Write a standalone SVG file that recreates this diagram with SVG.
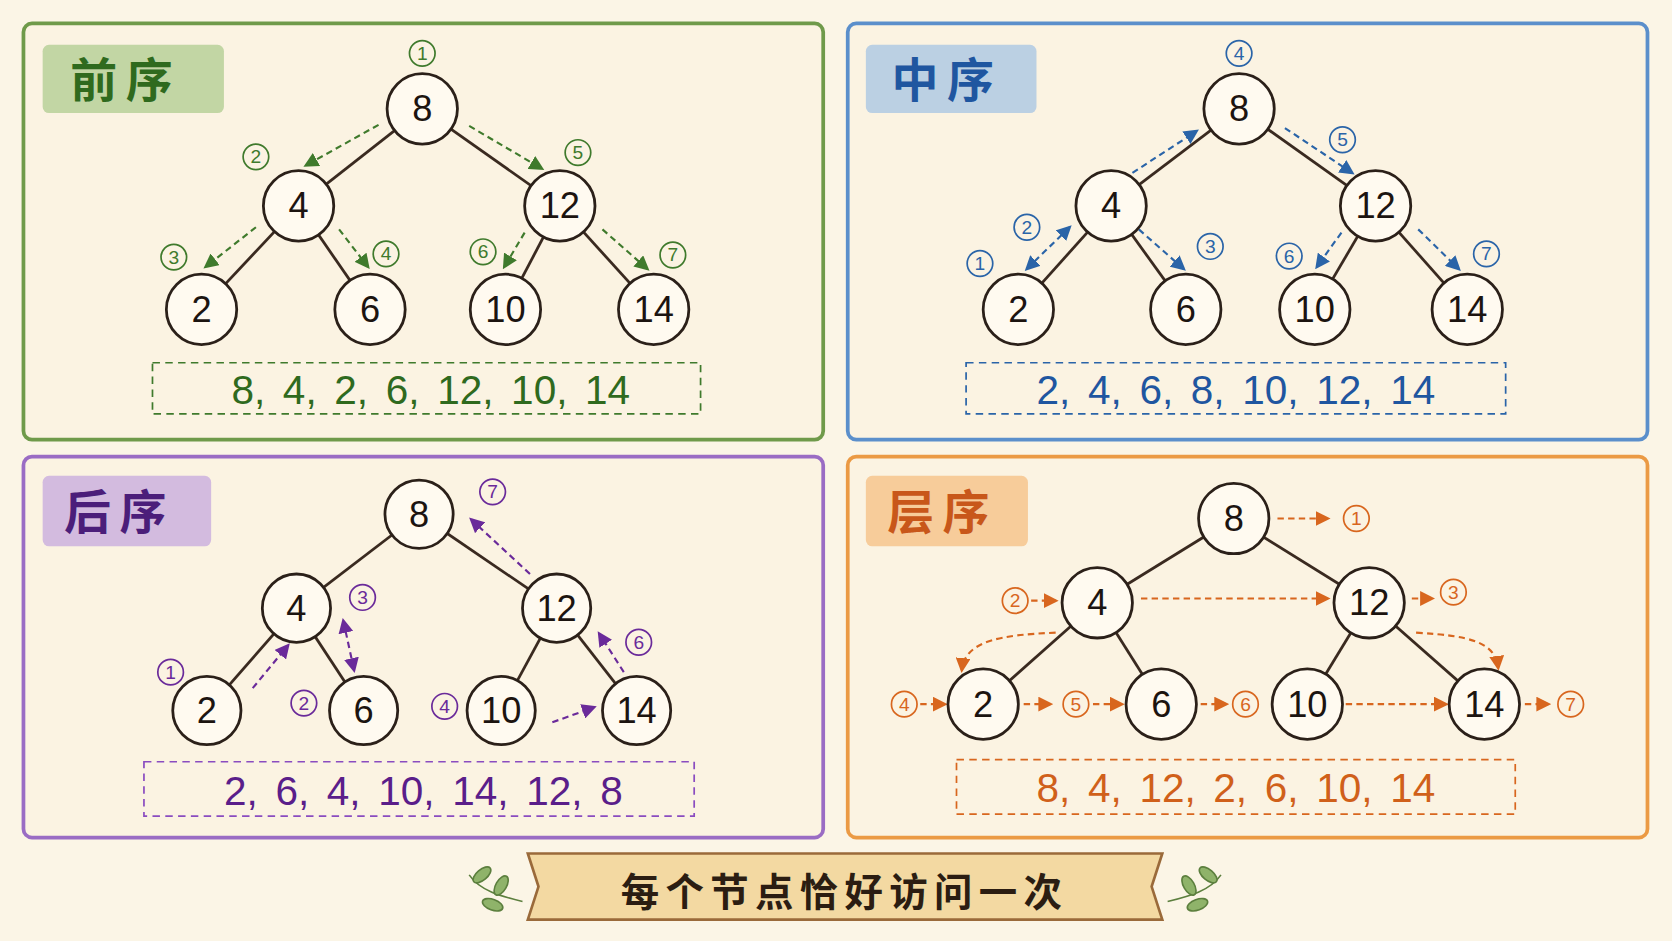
<svg xmlns="http://www.w3.org/2000/svg" width="1672" height="941" viewBox="0 0 1672 941">
<defs>
<style>
.nd circle{fill:#fffaf0;stroke:#2b2019;stroke-width:2.6}
.nd text{font-family:"Liberation Sans",sans-serif;font-size:34px;fill:#1c1410;text-anchor:middle;dominant-baseline:central}
.ed line{stroke:#3a2a20;stroke-width:2.6}
.panel{fill:#fbf3e2;stroke-width:3.5}
.title{font-family:"Noto Sans CJK SC",sans-serif;font-weight:bold;font-size:44px;letter-spacing:8px}
.res{font-family:"Liberation Sans",sans-serif;font-size:38px;text-anchor:middle;dominant-baseline:central;word-spacing:6px}
.rbox{fill:none;stroke-width:1.6;stroke-dasharray:7 5}
.num circle{fill:none;stroke-width:1.6}
.num text{font-family:"Liberation Sans",sans-serif;font-size:18px;text-anchor:middle;dominant-baseline:central}
.g{stroke:#3f7a2c;fill:#3f7a2c}
.b{stroke:#2a64a8;fill:#2a64a8}
.p{stroke:#6a2a9a;fill:#6a2a9a}
.o{stroke:#d8661e;fill:#d8661e}
.arr{fill:none;stroke-width:2;stroke-dasharray:6 4}
</style>
<marker id="mg" viewBox="0 0 10 10" refX="8" refY="5" markerWidth="7" markerHeight="7" orient="auto-start-reverse"><path d="M0 0L10 5L0 10z" fill="#3f7a2c"/></marker>
<marker id="mb" viewBox="0 0 10 10" refX="8" refY="5" markerWidth="7" markerHeight="7" orient="auto-start-reverse"><path d="M0 0L10 5L0 10z" fill="#2a64a8"/></marker>
<marker id="mp" viewBox="0 0 10 10" refX="8" refY="5" markerWidth="7" markerHeight="7" orient="auto-start-reverse"><path d="M0 0L10 5L0 10z" fill="#6a2a9a"/></marker>
<marker id="mo" viewBox="0 0 10 10" refX="8" refY="5" markerWidth="7" markerHeight="7" orient="auto-start-reverse"><path d="M0 0L10 5L0 10z" fill="#d8661e"/></marker>
</defs>
<rect width="1672" height="941" fill="#fbf5e6"/>
<g transform="scale(1.06633 1.0669)">
<rect class="panel" x="22" y="22" width="750" height="390" rx="8" stroke="#6f9a4a"/>
<rect class="panel" x="795" y="22" width="750" height="390" rx="8" stroke="#5b8fcb"/>
<rect class="panel" x="22" y="428" width="750" height="357" rx="8" stroke="#9a6cc4"/>
<rect class="panel" x="795" y="428" width="750" height="357" rx="8" stroke="#eb9a44"/>
<rect x="40" y="42" width="170" height="64" rx="6" fill="#a9c98a" opacity="0.7"/>
<text class="title" x="66" y="91" fill="#2f6a1e">前序</text>
<rect x="812" y="42" width="160" height="64" rx="6" fill="#9fc1e4" opacity="0.7"/>
<text class="title" x="836" y="91" fill="#1f56a0">中序</text>
<rect x="40" y="446" width="158" height="66" rx="6" fill="#c2a3de" opacity="0.7"/>
<text class="title" x="60" y="496" fill="#4b1e7a">后序</text>
<rect x="812" y="446" width="152" height="66" rx="6" fill="#f5bb7c" opacity="0.7"/>
<text class="title" x="832" y="496" fill="#c8571a">层序</text>

<g id="connectors">
<g class="ed">
<line x1="396" y1="102" x2="280" y2="193"/><line x1="396" y1="102" x2="525" y2="193"/>
<line x1="280" y1="193" x2="189" y2="290"/><line x1="280" y1="193" x2="347" y2="290"/>
<line x1="525" y1="193" x2="474" y2="290"/><line x1="525" y1="193" x2="613" y2="290"/>
<line x1="1162" y1="102" x2="1042" y2="193"/><line x1="1162" y1="102" x2="1290" y2="193"/>
<line x1="1042" y1="193" x2="955" y2="290"/><line x1="1042" y1="193" x2="1112" y2="290"/>
<line x1="1290" y1="193" x2="1233" y2="290"/><line x1="1290" y1="193" x2="1376" y2="290"/>
<line x1="393" y1="482" x2="278" y2="570"/><line x1="393" y1="482" x2="522" y2="570"/>
<line x1="278" y1="570" x2="194" y2="666"/><line x1="278" y1="570" x2="341" y2="666"/>
<line x1="522" y1="570" x2="470" y2="666"/><line x1="522" y1="570" x2="597" y2="666"/>
<line x1="1157" y1="486" x2="1029" y2="565"/><line x1="1157" y1="486" x2="1284" y2="565"/>
<line x1="1029" y1="565" x2="922" y2="660"/><line x1="1029" y1="565" x2="1089" y2="660"/>
<line x1="1284" y1="565" x2="1226" y2="660"/><line x1="1284" y1="565" x2="1392" y2="660"/>
</g>
<g class="arr" stroke="#3f7a2c" marker-end="url(#mg)">
<line x1="355" y1="117" x2="287" y2="155"/><line x1="440" y1="118" x2="508" y2="158"/>
<line x1="240" y1="213" x2="193" y2="250"/><line x1="318" y1="215" x2="345" y2="250"/>
<line x1="492" y1="218" x2="473" y2="250"/><line x1="565" y1="215" x2="607" y2="252"/>
</g>
<g class="arr" stroke="#2a64a8" marker-end="url(#mb)">
<line x1="1003" y1="213" x2="963" y2="252" marker-start="url(#mb)"/>
<line x1="1068" y1="215" x2="1110" y2="252"/>
<line x1="1062" y1="162" x2="1122" y2="123"/><line x1="1205" y1="120" x2="1268" y2="162"/>
<line x1="1258" y1="218" x2="1235" y2="250"/><line x1="1330" y1="215" x2="1368" y2="252"/>
</g>
<g class="arr" stroke="#6a2a9a" marker-end="url(#mp)">
<line x1="237" y1="645" x2="270" y2="605"/>
<line x1="322" y1="582" x2="332" y2="628" marker-start="url(#mp)"/>
<line x1="518" y1="677" x2="557" y2="663"/><line x1="585" y1="630" x2="562" y2="594"/>
<line x1="497" y1="538" x2="442" y2="487"/>
</g>
<g class="arr" stroke="#d8661e" marker-end="url(#mo)" stroke-dasharray="3 3">
<line x1="1198" y1="486" x2="1245" y2="486"/><line x1="967" y1="563" x2="990" y2="563"/>
<line x1="1070" y1="561" x2="1245" y2="561"/><line x1="1324" y1="561" x2="1343" y2="561"/>
<path d="M990 593C940 595 905 600 902 628"/><path d="M1328 593C1380 596 1402 602 1405 626"/>
<line x1="863" y1="660" x2="886" y2="660"/><line x1="960" y1="660" x2="985" y2="660"/>
<line x1="1025" y1="660" x2="1052" y2="660"/><line x1="1126" y1="660" x2="1150" y2="660"/>
<line x1="1262" y1="660" x2="1356" y2="660"/><line x1="1430" y1="660" x2="1452" y2="660"/>
</g>
</g>

<g id="n1-8" class="nd"><circle cx="396" cy="102" r="33"/><text x="396" y="102">8</text></g>
<g id="n1-4" class="nd"><circle cx="280" cy="193" r="33"/><text x="280" y="193">4</text></g>
<g id="n1-12" class="nd"><circle cx="525" cy="193" r="33"/><text x="525" y="193">12</text></g>
<g id="n1-2" class="nd"><circle cx="189" cy="290" r="33"/><text x="189" y="290">2</text></g>
<g id="n1-6" class="nd"><circle cx="347" cy="290" r="33"/><text x="347" y="290">6</text></g>
<g id="n1-10" class="nd"><circle cx="474" cy="290" r="33"/><text x="474" y="290">10</text></g>
<g id="n1-14" class="nd"><circle cx="613" cy="290" r="33"/><text x="613" y="290">14</text></g>
<g id="n2-8" class="nd"><circle cx="1162" cy="102" r="33"/><text x="1162" y="102">8</text></g>
<g id="n2-4" class="nd"><circle cx="1042" cy="193" r="33"/><text x="1042" y="193">4</text></g>
<g id="n2-12" class="nd"><circle cx="1290" cy="193" r="33"/><text x="1290" y="193">12</text></g>
<g id="n2-2" class="nd"><circle cx="955" cy="290" r="33"/><text x="955" y="290">2</text></g>
<g id="n2-6" class="nd"><circle cx="1112" cy="290" r="33"/><text x="1112" y="290">6</text></g>
<g id="n2-10" class="nd"><circle cx="1233" cy="290" r="33"/><text x="1233" y="290">10</text></g>
<g id="n2-14" class="nd"><circle cx="1376" cy="290" r="33"/><text x="1376" y="290">14</text></g>
<g id="n3-8" class="nd"><circle cx="393" cy="482" r="32"/><text x="393" y="482">8</text></g>
<g id="n3-4" class="nd"><circle cx="278" cy="570" r="32"/><text x="278" y="570">4</text></g>
<g id="n3-12" class="nd"><circle cx="522" cy="570" r="32"/><text x="522" y="570">12</text></g>
<g id="n3-2" class="nd"><circle cx="194" cy="666" r="32"/><text x="194" y="666">2</text></g>
<g id="n3-6" class="nd"><circle cx="341" cy="666" r="32"/><text x="341" y="666">6</text></g>
<g id="n3-10" class="nd"><circle cx="470" cy="666" r="32"/><text x="470" y="666">10</text></g>
<g id="n3-14" class="nd"><circle cx="597" cy="666" r="32"/><text x="597" y="666">14</text></g>
<g id="n4-8" class="nd"><circle cx="1157" cy="486" r="33"/><text x="1157" y="486">8</text></g>
<g id="n4-4" class="nd"><circle cx="1029" cy="565" r="33"/><text x="1029" y="565">4</text></g>
<g id="n4-12" class="nd"><circle cx="1284" cy="565" r="33"/><text x="1284" y="565">12</text></g>
<g id="n4-2" class="nd"><circle cx="922" cy="660" r="33"/><text x="922" y="660">2</text></g>
<g id="n4-6" class="nd"><circle cx="1089" cy="660" r="33"/><text x="1089" y="660">6</text></g>
<g id="n4-10" class="nd"><circle cx="1226" cy="660" r="33"/><text x="1226" y="660">10</text></g>
<g id="n4-14" class="nd"><circle cx="1392" cy="660" r="33"/><text x="1392" y="660">14</text></g>

<g class="num g">
<circle cx="396" cy="50" r="12"/><text x="396" y="50" stroke="none">1</text>
<circle cx="240" cy="147" r="12"/><text x="240" y="147" stroke="none">2</text>
<circle cx="163" cy="241" r="12"/><text x="163" y="241" stroke="none">3</text>
<circle cx="362" cy="238" r="12"/><text x="362" y="238" stroke="none">4</text>
<circle cx="542" cy="143" r="12"/><text x="542" y="143" stroke="none">5</text>
<circle cx="453" cy="236" r="12"/><text x="453" y="236" stroke="none">6</text>
<circle cx="631" cy="239" r="12"/><text x="631" y="239" stroke="none">7</text>
</g>
<g class="num b">
<circle cx="919" cy="247" r="12"/><text x="919" y="247" stroke="none">1</text>
<circle cx="963" cy="213" r="12"/><text x="963" y="213" stroke="none">2</text>
<circle cx="1135" cy="231" r="12"/><text x="1135" y="231" stroke="none">3</text>
<circle cx="1162" cy="50" r="12"/><text x="1162" y="50" stroke="none">4</text>
<circle cx="1259" cy="131" r="12"/><text x="1259" y="131" stroke="none">5</text>
<circle cx="1209" cy="240" r="12"/><text x="1209" y="240" stroke="none">6</text>
<circle cx="1394" cy="238" r="12"/><text x="1394" y="238" stroke="none">7</text>
</g>
<g class="num p">
<circle cx="160" cy="630" r="12"/><text x="160" y="630" stroke="none">1</text>
<circle cx="285" cy="659" r="12"/><text x="285" y="659" stroke="none">2</text>
<circle cx="340" cy="560" r="12"/><text x="340" y="560" stroke="none">3</text>
<circle cx="417" cy="662" r="12"/><text x="417" y="662" stroke="none">4</text>
<circle cx="599" cy="602" r="12"/><text x="599" y="602" stroke="none">6</text>
<circle cx="462" cy="461" r="12"/><text x="462" y="461" stroke="none">7</text>
</g>
<g class="num o">
<circle cx="1272" cy="486" r="12"/><text x="1272" y="486" stroke="none">1</text>
<circle cx="952" cy="563" r="12"/><text x="952" y="563" stroke="none">2</text>
<circle cx="1363" cy="555" r="12"/><text x="1363" y="555" stroke="none">3</text>
<circle cx="848" cy="660" r="12"/><text x="848" y="660" stroke="none">4</text>
<circle cx="1009" cy="660" r="12"/><text x="1009" y="660" stroke="none">5</text>
<circle cx="1168" cy="660" r="12"/><text x="1168" y="660" stroke="none">6</text>
<circle cx="1473" cy="660" r="12"/><text x="1473" y="660" stroke="none">7</text>
</g>

<rect class="rbox" x="143" y="340" width="514" height="48" stroke="#3f7a2c"/>
<text class="res" x="404" y="366" fill="#2f6a1e">8, 4, 2, 6, 12, 10, 14</text>
<rect class="rbox" x="906" y="340" width="506" height="48" stroke="#2a64a8"/>
<text class="res" x="1159" y="366" fill="#1f56a0">2, 4, 6, 8, 10, 12, 14</text>
<rect class="rbox" x="135" y="714" width="516" height="51" stroke="#8a4cc0"/>
<text class="res" x="397" y="741" fill="#5a1e8a">2, 6, 4, 10, 14, 12, 8</text>
<rect class="rbox" x="897" y="712" width="524" height="51" stroke="#d8661e"/>
<text class="res" x="1159" y="739" fill="#d0601a">8, 4, 12, 2, 6, 10, 14</text>

<path d="M495 800L1090 800L1080 831L1090 862L495 862L505 831Z" fill="#f3d9a2" stroke="#9a6a3a" stroke-width="2.5"/>
<text x="792" y="833" font-family="Noto Sans CJK SC,sans-serif" font-weight="bold" font-size="36" fill="#2b1d12" text-anchor="middle" dominant-baseline="central" letter-spacing="6">每个节点恰好访问一次</text>
<g fill="#8fb36a" stroke="#5c7f3e" stroke-width="1.5">
<path d="M490 845C470 840 450 835 440 820" fill="none"/>
<ellipse cx="452" cy="820" rx="10" ry="5" transform="rotate(-40 452 820)"/>
<ellipse cx="470" cy="830" rx="10" ry="5" transform="rotate(-60 470 830)"/>
<ellipse cx="462" cy="848" rx="10" ry="5" transform="rotate(20 462 848)"/>
<path d="M1095 845C1115 840 1135 835 1145 820" fill="none"/>
<ellipse cx="1133" cy="820" rx="10" ry="5" transform="rotate(40 1133 820)"/>
<ellipse cx="1115" cy="830" rx="10" ry="5" transform="rotate(60 1115 830)"/>
<ellipse cx="1123" cy="848" rx="10" ry="5" transform="rotate(-20 1123 848)"/>
</g>
</g>
</svg>
